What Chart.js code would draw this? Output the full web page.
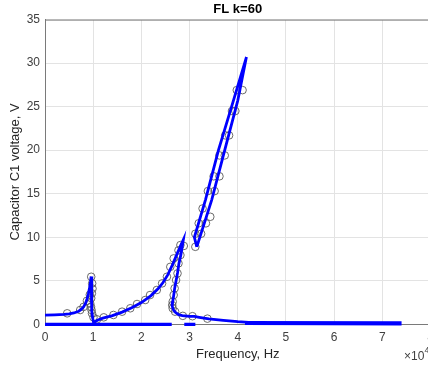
<!DOCTYPE html>
<html>
<head>
<meta charset="utf-8">
<script src="https://cdn.jsdelivr.net/npm/chart.js@4"></script>
<style>
  html, body { margin: 0; padding: 0; background: #fff; }
  #wrap { width: 428px; height: 367px; overflow: hidden; }
</style>
</head>
<body>
<div id="wrap"><canvas id="fl" width="440" height="367"></canvas></div>
<script>
// frequency in units of 1e4 Hz, voltage in V

// first resonance, up to the peak and the jump down
var firstX = [0, 0.2, 0.4, 0.5, 0.6, 0.7, 0.75, 0.8, 0.84, 0.87, 0.9, 0.925, 0.945, 0.958, 0.965, 0.968, 0.97, 0.975, 0.99, 1.01];
var firstY = [1.05, 1.08, 1.13, 1.2, 1.3, 1.5, 1.7, 2.0, 2.4, 2.85, 3.5, 4.2, 4.9, 5.5, 4.5, 3.5, 2.5, 1.5, 0.7, 0.15];

// second resonance, rising part, fold back and tail
var secondX = [1.01, 1.05, 1.1, 1.2, 1.4, 1.6, 1.8, 2.0, 2.2, 2.35, 2.45, 2.55, 2.65, 2.75, 2.82, 2.87,
               2.85, 2.82, 2.78, 2.75, 2.72, 2.69, 2.67, 2.65, 2.64, 2.66, 2.7, 2.77, 2.85, 3.0, 3.1, 3.2, 3.4, 3.7, 4.0, 4.3, 4.6];
var secondY = [0.15, 0.35, 0.5, 0.7, 1.0, 1.4, 1.9, 2.5, 3.3, 4.1, 4.8, 5.7, 6.9, 8.2, 9.1, 9.7,
               9.0, 8.0, 7.0, 5.9, 5.0, 4.1, 3.3, 2.6, 2.1, 1.7, 1.4, 1.1, 1.0, 0.9, 0.9, 0.8, 0.62, 0.45, 0.3, 0.2, 0.15];

// upper branch (narrow loop)
var upperX = [3.15, 3.10, 3.33, 3.60, 3.91, 4.18, 4.0, 3.73, 3.46, 3.15];
var upperY = [8.9, 10.0, 14.3, 20.0, 25.7, 30.7, 25.7, 20.0, 14.3, 8.9];

// zero-level segments
var zeroAX = [0, 2.63];
var zeroAY = [0, 0];
var zeroBX = [2.89, 3.12];
var zeroBY = [0, 0];
var zeroCX = [4.15, 7.4];
var zeroCY = [0.15, 0.1];

// measured points (circles)
var measX = [0.46, 0.73, 0.8, 0.87, 0.93, 0.959, 0.979, 0.986, 0.973, 0.959, 0.938, 0.955, 0.965, 0.975, 1.006,
             1.08, 1.22, 1.42, 1.6, 1.77, 1.91, 2.08, 2.18, 2.32, 2.43, 2.53, 2.6, 2.67, 2.77, 2.81, 2.88,
             2.81, 2.77, 2.75, 2.72, 2.69, 2.67, 2.65, 2.64, 2.65, 2.7, 2.86, 3.06, 3.37,
             3.12, 3.12, 3.24, 3.19, 3.34, 3.43, 3.27, 3.38, 3.52, 3.5, 3.62, 3.62, 3.73, 3.74, 3.82, 3.88, 3.95, 3.98, 4.1];
var measY = [1.26, 1.64, 2.0, 2.7, 3.4, 5.46, 4.7, 4.1, 3.55, 3.0, 2.4, 2.0, 1.64, 1.26, 0.8,
             0.57, 0.8, 1.07, 1.45, 1.84, 2.33, 2.79, 3.36, 3.94, 4.7, 5.46, 6.6, 7.57, 8.5, 9.1, 9.0,
             7.95, 7.0, 5.85, 5.08, 4.13, 3.36, 2.6, 2.2, 1.84, 1.45, 0.97, 0.93, 0.65,
             8.9, 10.4, 10.4, 11.6, 11.6, 12.35, 13.3, 15.3, 15.3, 17.0, 17.0, 19.4, 19.4, 21.7, 21.7, 24.5, 24.5, 26.9, 26.9];

var xTicks = [0, 1, 2, 3, 4, 5, 6, 7, 8];
var yTicks = [0, 5, 10, 15, 20, 25, 30, 35];

function pts(xs, ys) {
  return xs.map(function (x, i) { return { x: x, y: ys[i] }; });
}

function line(xs, ys, w) {
  return {
    data: pts(xs, ys),
    showLine: true,
    borderColor: '#0000ff',
    backgroundColor: '#0000ff',
    borderWidth: w,
    pointRadius: 0,
    tension: 0,
    clip: 4   // matlab lets thick lines spill over the axis a little
  };
}

var FONT = '"Liberation Sans", Arial, Helvetica, sans-serif';

// top border and the x10^4 multiplier, like matlab draws them
var extras = {
  id: 'extras',
  afterDraw: function (chart) {
    var ctx = chart.ctx, a = chart.chartArea;
    ctx.save();
    ctx.strokeStyle = '#7a7a7a';
    ctx.lineWidth = 1;
    ctx.beginPath();
    ctx.moveTo(a.left, a.top + 0.5);
    ctx.lineTo(a.right, a.top + 0.5);
    ctx.moveTo(a.right - 0.5, a.top);
    ctx.lineTo(a.right - 0.5, a.bottom);
    ctx.stroke();
    ctx.fillStyle = '#404040';
    ctx.textBaseline = 'middle';
    ctx.textAlign = 'left';
    ctx.font = '12px ' + FONT;
    ctx.fillText('\u00d710', 404, 357);
    ctx.font = '9px ' + FONT;
    ctx.fillText('4', 424.5, 351);
    ctx.restore();
  }
};

new Chart(document.getElementById('fl').getContext('2d'), {
  type: 'scatter',
  data: {
    datasets: [
      line(firstX, firstY, 2.8),
      line(secondX, secondY, 2.8),
      line(upperX, upperY, 2.8),
      line(zeroAX, zeroAY, 3.2),
      line(zeroBX, zeroBY, 3.2),
      line(zeroCX, zeroCY, 4.2),
      {
        data: pts(measX, measY),
        pointStyle: 'circle',
        pointRadius: 3.8,
        pointBorderWidth: 0.9,
        pointBorderColor: '#5a5a5a',
        pointBackgroundColor: 'rgba(0,0,0,0)',
        showLine: false
      }
    ]
  },
  options: {
    responsive: false,
    devicePixelRatio: 1,
    animation: false,
    layout: { padding: { left: 0, right: 9.5, top: 0, bottom: 0 } },
    plugins: {
      legend: { display: false },
      tooltip: { enabled: false },
      title: {
        display: true,
        text: 'FL k=60',
        fullSize: false,
        color: '#000',
        font: { family: FONT, size: 13, weight: 'bold' },
        padding: { top: 2, bottom: 2 }
      }
    },
    scales: {
      x: {
        type: 'linear',
        min: 0,
        max: 8,
        afterBuildTicks: function (s) { s.ticks = xTicks.map(function (v) { return { value: v }; }); },
        afterFit: function (s) { s.height = 42.7; },
        ticks: { color: '#404040', padding: 6, font: { family: FONT, size: 12 } },
        grid: { color: '#e3e3e3', drawTicks: false },
        border: { color: '#7a7a7a', width: 1 },
        title: {
          display: true,
          text: 'Frequency, Hz',
          color: '#262626',
          font: { family: FONT, size: 13 },
          padding: { top: 0, bottom: 5 }
        }
      },
      y: {
        type: 'linear',
        min: 0,
        max: 35,
        afterBuildTicks: function (s) { s.ticks = yTicks.map(function (v) { return { value: v }; }); },
        afterFit: function (s) { s.width = 45; },
        ticks: { color: '#404040', padding: 5, font: { family: FONT, size: 12 } },
        grid: { color: '#e3e3e3', drawTicks: false },
        border: { color: '#7a7a7a', width: 1 },
        title: {
          display: true,
          text: 'Capacitor C1 voltage, V',
          color: '#262626',
          font: { family: FONT, size: 13 },
          padding: { top: 8, bottom: 0 }
        }
      }
    }
  },
  plugins: [extras]
});
</script>
</body>
</html>
